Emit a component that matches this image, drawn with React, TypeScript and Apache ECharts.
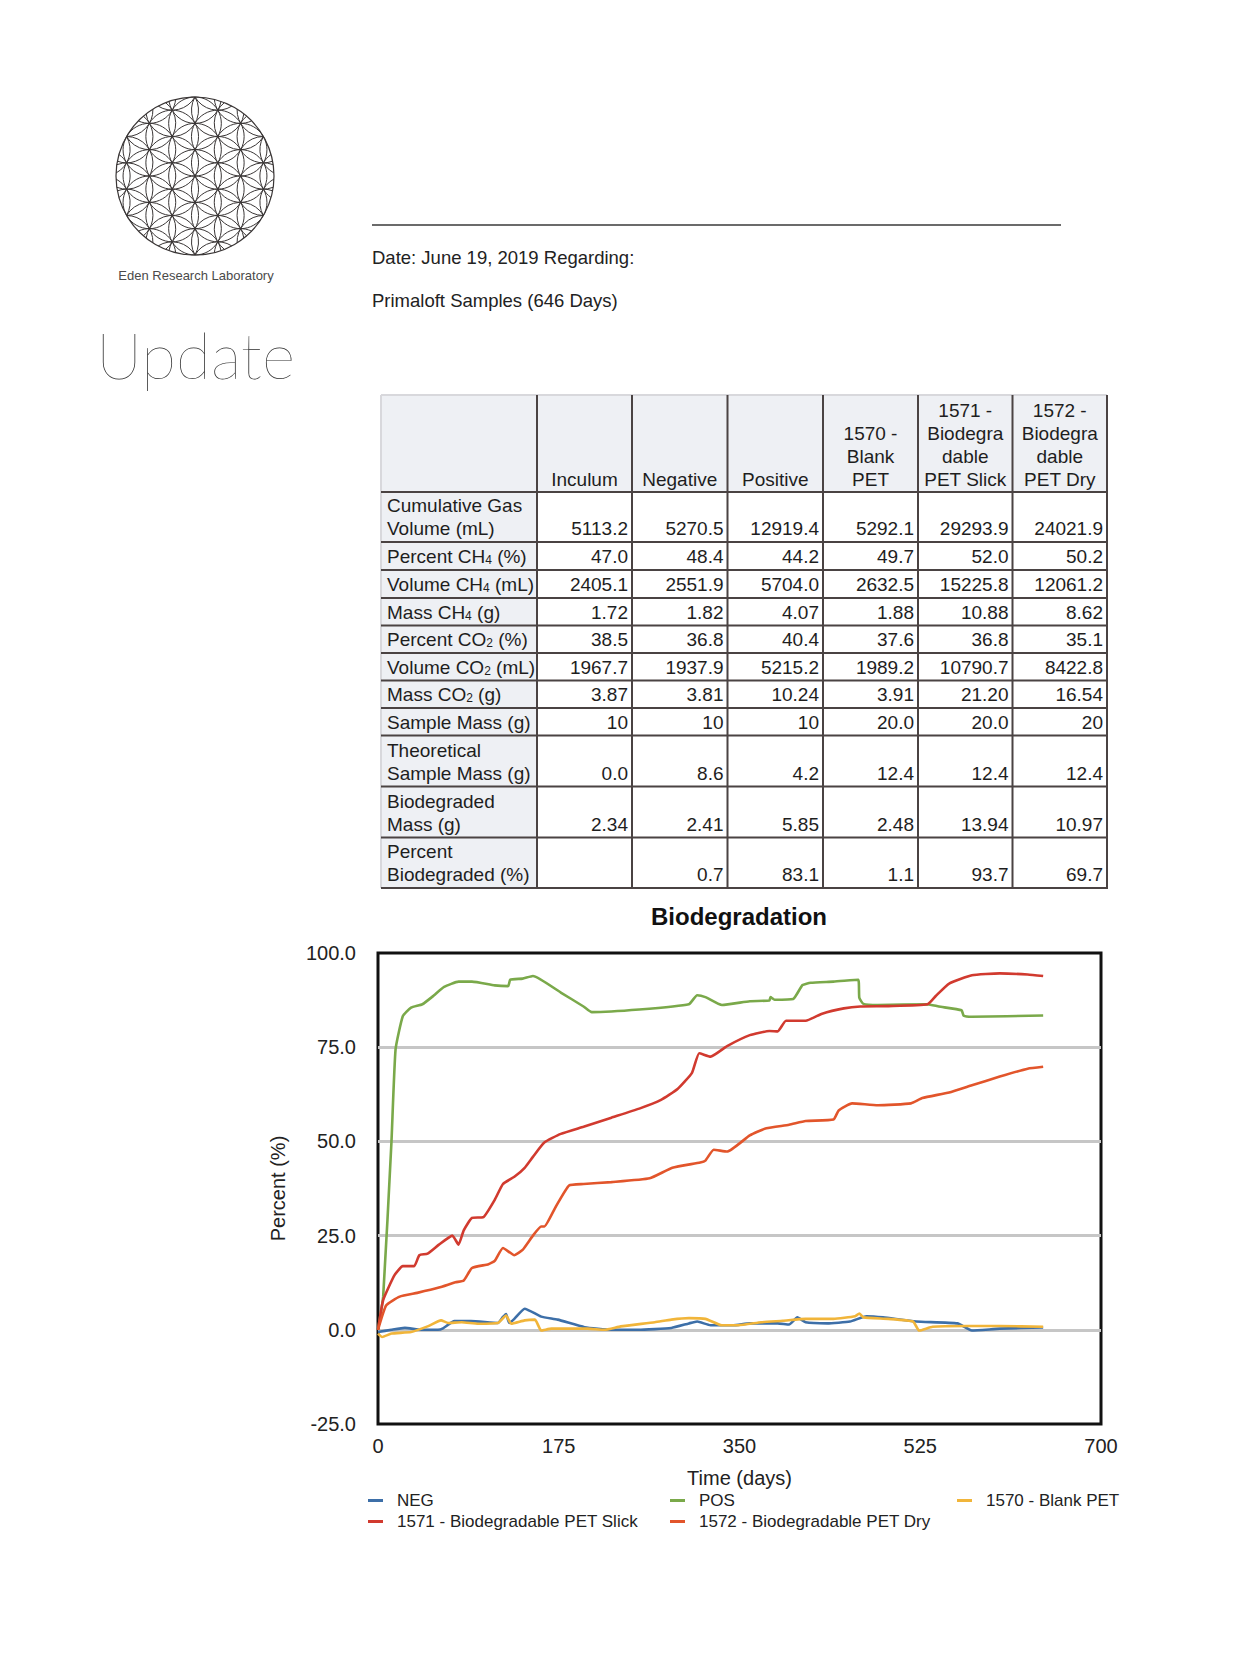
import React, { useEffect, useRef } from "react";
import * as echarts from "echarts";

const FONT = "Liberation Sans, Arial, Helvetica, sans-serif";

// ---------- Table data ----------
const headerLines: string[][] = [
  ["Inculum"],
  ["Negative"],
  ["Positive"],
  ["1570 -", "Blank", "PET"],
  ["1571 -", "Biodegra", "dable", "PET Slick"],
  ["1572 -", "Biodegra", "dable", "PET Dry"],
];
const rowLabels: string[][] = [
  ["Cumulative Gas", "Volume (mL)"],
  ["{a|Percent CH}{s|4}{a| (%)}"],
  ["{a|Volume CH}{s|4}{a| (mL)}"],
  ["{a|Mass CH}{s|4}{a| (g)}"],
  ["{a|Percent CO}{s|2}{a| (%)}"],
  ["{a|Volume CO}{s|2}{a| (mL)}"],
  ["{a|Mass CO}{s|2}{a| (g)}"],
  ["Sample Mass (g)"],
  ["Theoretical", "Sample Mass (g)"],
  ["Biodegraded", "Mass (g)"],
  ["Percent", "Biodegraded (%)"],
];
const cumGas = ["5113.2", "5270.5", "12919.4", "5292.1", "29293.9", "24021.9"];
const pctCH4 = ["47.0", "48.4", "44.2", "49.7", "52.0", "50.2"];
const volCH4 = ["2405.1", "2551.9", "5704.0", "2632.5", "15225.8", "12061.2"];
const massCH4 = ["1.72", "1.82", "4.07", "1.88", "10.88", "8.62"];
const pctCO2 = ["38.5", "36.8", "40.4", "37.6", "36.8", "35.1"];
const volCO2 = ["1967.7", "1937.9", "5215.2", "1989.2", "10790.7", "8422.8"];
const massCO2 = ["3.87", "3.81", "10.24", "3.91", "21.20", "16.54"];
const sampleMass = ["10", "10", "10", "20.0", "20.0", "20"];
const theoMass = ["0.0", "8.6", "4.2", "12.4", "12.4", "12.4"];
const biodegMass = ["2.34", "2.41", "5.85", "2.48", "13.94", "10.97"];
const pctBiodeg = ["", "0.7", "83.1", "1.1", "93.7", "69.7"];
const tableRows = [cumGas, pctCH4, volCH4, massCH4, pctCO2, volCO2, massCO2, sampleMass, theoMass, biodegMass, pctBiodeg];

// ---------- Chart data: [day, percent] ----------
const seriesNames = ["NEG", "POS", "1570 - Blank PET", "1571 - Biodegradable PET Slick", "1572 - Biodegradable PET Dry"];
const seriesColors = ["#3d6fa8", "#7aa94a", "#f1b53a", "#d13a2f", "#e2552b"];
const negData = [[0,-0.6],[13,0],[26,0.5],[42,0],[58,0],[63,0.4],[74,2.3],[90,2.3],[116,1.8],[121,3.4],[124,4.2],[127,1.8],[132,2.9],[142,5.6],[158,3.5],[174,2.7],[200,0.7],[226,0],[252,0],[284,0.5],[301,1.7],[309,2.2],[322,1.2],[344,1.2],[360,1.7],[387,1.7],[398,1.4],[406,3.3],[414,2.0],[435,1.7],[457,2.2],[473,3.6],[489,3.3],[521,2.2],[561,1.7],[575,-0.2],[602,0.3],[644,0.6]];
const posData = [[0,0],[5,8.8],[13,49.7],[17,74.4],[24,83.2],[32,85.5],[43,86.4],[54,88.7],[64,91],[78,92.4],[91,92.4],[113,91.4],[126,91.2],[128,92.9],[140,93.2],[150,93.9],[177,89.5],[199,85.8],[207,84.3],[253,85],[301,86.4],[309,88.8],[317,88.3],[333,86.2],[360,87.2],[379,87.4],[380,88.3],[384,87.6],[402,87.8],[411,91.5],[419,92.1],[441,92.4],[465,92.9],[466,88.1],[470,86.5],[484,86.2],[532,86.4],[543,85.8],[565,84.8],[567,83.4],[575,83.1],[644,83.4]];
const blankData = [[0,-1],[4,-1.9],[13,-1],[32,-0.6],[48,0.9],[61,2.5],[68,1.8],[81,2.0],[97,1.6],[116,1.8],[124,3.8],[129,1.6],[142,2.5],[152,2.7],[158,-0.2],[168,0.3],[203,0.3],[219,0],[235,0.9],[268,2.0],[284,2.7],[301,3.1],[317,2.9],[333,1.2],[349,1.2],[371,2.0],[392,2.4],[414,2.9],[441,2.9],[462,3.6],[466,4.3],[470,3.3],[494,2.9],[518,2.2],[524,-0.2],[537,0.8],[570,1.0],[602,1.0],[644,0.8]];
const slickData = [[0,0],[5,7.9],[16,14.5],[24,16.9],[35,16.9],[40,19.8],[48,20.2],[59,22.6],[72,25],[78,22.6],[83,26.4],[91,29.7],[102,29.9],[113,34.5],[121,38.7],[132,40.6],[142,43],[150,45.9],[161,49.7],[177,52],[199,53.9],[226,56.3],[253,58.7],[274,61],[290,63.9],[304,68.2],[311,73.4],[322,72.5],[338,75.3],[360,78.2],[379,79.3],[387,79.2],[395,82],[414,82],[430,83.9],[451,85.3],[467,85.8],[494,85.9],[532,86.4],[540,88.6],[553,91.9],[575,94.1],[602,94.6],[629,94.3],[644,93.9]];
const dryData = [[0,0],[8,6.5],[21,8.8],[38,9.8],[59,11.2],[75,12.6],[83,13.1],[91,16.4],[107,17.4],[113,18.3],[121,21.7],[132,19.8],[140,21.2],[150,25],[158,27.4],[161,27.4],[172,32.6],[185,38.3],[199,38.7],[226,39.2],[263,40.2],[285,43],[312,44.4],[317,44.9],[325,47.8],[338,47.3],[360,51.6],[376,53.5],[398,54.4],[414,55.4],[441,55.8],[446,58.2],[459,60.1],[484,59.6],[516,60.1],[527,61.5],[553,63],[575,64.9],[602,67.2],[629,69.3],[644,69.8]];
const allData = [negData, posData, blankData, slickData, dryData];
const yTicks = [-25, 0, 25, 50, 75, 100];
const xTicks = [0, 175, 350, 525, 700];

function buildLogo(): any[] {
  const cx = 195, cy = 176, R = 79, r = R / 3;
  const els: any[] = [];
  const stroke = { stroke: "#3a3636", lineWidth: 1, fill: "none" };
  els.push({ type: "circle", shape: { cx, cy, r: R }, style: { ...stroke, lineWidth: 1.2 } });
  for (let i = -7; i <= 7; i++) {
    for (let j = -7; j <= 7; j++) {
      const px = j * r * Math.sqrt(3) / 2;
      const py = i * r + j * r / 2;
      const d = Math.hypot(px, py);
      if (d >= R + r - 0.01) continue;
      const k = d < 1e-6 ? 2 : (R * R - d * d - r * r) / (2 * d * r);
      if (k >= 0.999) {
        els.push({ type: "circle", shape: { cx: cx + px, cy: cy + py, r }, style: stroke });
      } else if (k > -1) {
        const alpha = Math.atan2(py, px) + Math.PI;
        const w = Math.PI - Math.acos(k);
        els.push({
          type: "arc",
          shape: { cx: cx + px, cy: cy + py, r, startAngle: alpha - w, endAngle: alpha + w, clockwise: true },
          style: stroke,
        });
      }
    }
  }
  return els;
}

function buildTable(): any[] {
  const xs = [381, 537, 632, 727.5, 823, 918, 1012.5, 1107];
  const ys = [395, 492, 542, 570, 598, 625.5, 653, 680.5, 708, 735.5, 786.5, 837.5, 888];
  const els: any[] = [];
  const bg = "#eef0f4";
  const lineC = "#4a4343";
  const txtC = "#1e1e1e";
  els.push({ type: "rect", shape: { x: xs[0], y: ys[0], width: xs[7] - xs[0], height: ys[1] - ys[0] }, style: { fill: bg } });
  els.push({ type: "rect", shape: { x: xs[0], y: ys[1], width: xs[1] - xs[0], height: ys[12] - ys[1] }, style: { fill: bg } });
  els.push({ type: "line", shape: { x1: xs[0], y1: ys[0], x2: xs[7], y2: ys[0] }, style: { stroke: "#d8d8dc", lineWidth: 2 } });
  els.push({ type: "line", shape: { x1: xs[0], y1: ys[0], x2: xs[0], y2: ys[12] }, style: { stroke: "#d8d8dc", lineWidth: 2 } });
  for (let r = 1; r < ys.length; r++) {
    els.push({ type: "line", shape: { x1: xs[0], y1: ys[r], x2: xs[7] + 1, y2: ys[r] }, style: { stroke: lineC, lineWidth: 2 } });
  }
  for (let c = 1; c < xs.length; c++) {
    els.push({ type: "line", shape: { x1: xs[c], y1: ys[0], x2: xs[c], y2: ys[12] + 1 }, style: { stroke: lineC, lineWidth: 2 } });
  }
  const rich = {
    a: { fontSize: 19, fontFamily: FONT, fill: txtC, verticalAlign: "bottom" },
    s: { fontSize: 12, fontFamily: FONT, fill: txtC, verticalAlign: "bottom" },
  };
  headerLines.forEach((lines, c) => {
    const cxm = (xs[c + 1] + xs[c + 2]) / 2;
    lines.forEach((t, k) => {
      const fromBottom = lines.length - 1 - k;
      els.push({
        type: "text", x: cxm, y: ys[1] - 13 - 23 * fromBottom,
        style: { text: t, fontSize: 19, fontFamily: FONT, fill: txtC, textAlign: "center", textVerticalAlign: "middle" },
      });
    });
  });
  rowLabels.forEach((lines, r) => {
    const bottom = ys[r + 2];
    lines.forEach((t, k) => {
      const fromBottom = lines.length - 1 - k;
      const isRich = t.indexOf("{") === 0;
      els.push({
        type: "text", x: xs[0] + 6, y: bottom - 13.5 - 23 * fromBottom,
        style: isRich
          ? { text: t, rich, textAlign: "left", textVerticalAlign: "middle" }
          : { text: t, fontSize: 19, fontFamily: FONT, fill: txtC, textAlign: "left", textVerticalAlign: "middle" },
      });
    });
    tableRows[r].forEach((v, c) => {
      if (!v) return;
      els.push({
        type: "text", x: xs[c + 2] - 4, y: bottom - 13.5,
        style: { text: v, fontSize: 19, fontFamily: FONT, fill: txtC, textAlign: "right", textVerticalAlign: "middle" },
      });
    });
  });
  return els;
}

function buildHeader(): any[] {
  return [
    { type: "text", x: 196, y: 275, style: { text: "Eden Research Laboratory", fontSize: 13, fontFamily: FONT, fill: "#4a4a4a", textAlign: "center", textVerticalAlign: "middle" } },
    { type: "text", x: 96, y: 354, style: { text: "Update", fontSize: 64, fontFamily: "Lato, Liberation Sans, sans-serif", fontWeight: 200, fill: "#2a2a2a", textAlign: "left", textVerticalAlign: "middle" } },
    { type: "line", shape: { x1: 372, y1: 225, x2: 1061, y2: 225 }, style: { stroke: "#3a3a3a", lineWidth: 1.3 } },
    { type: "text", x: 372, y: 257, style: { text: "Date: June 19, 2019 Regarding:", fontSize: 18.5, fontFamily: FONT, fill: "#222", textAlign: "left", textVerticalAlign: "middle" } },
    { type: "text", x: 372, y: 300, style: { text: "Primaloft Samples (646 Days)", fontSize: 18.5, fontFamily: FONT, fill: "#222", textAlign: "left", textVerticalAlign: "middle" } },
  ];
}

export default function App() {
  const ref = useRef<HTMLDivElement>(null);
  useEffect(() => {
    if (!ref.current) return;
    const chart = echarts.init(ref.current, undefined, { renderer: "svg" });
    const legendPos = [
      [368, 1492], [670, 1492], [957, 1492], [368, 1513], [670, 1513],
    ];
    const option: any = {
      animation: false,
      backgroundColor: "#ffffff",
      title: {
        text: "Biodegradation",
        left: 734,
        top: 899,
        textAlign: "center",
        textStyle: { fontSize: 24, fontWeight: "bold", fontFamily: FONT, color: "#111" },
      },
      grid: {
        left: 378, top: 953, width: 723, height: 471,
        show: true, borderColor: "#111", borderWidth: 3, backgroundColor: "#fff",
      },
      xAxis: {
        type: "value", min: xTicks[0], max: xTicks[xTicks.length - 1], interval: 175,
        axisLine: { show: false }, axisTick: { show: false }, splitLine: { show: false },
        axisLabel: { fontSize: 20, fontFamily: FONT, color: "#222", margin: 12 },
        name: "Time (days)", nameLocation: "middle", nameGap: 44,
        nameTextStyle: { fontSize: 20, fontFamily: FONT, color: "#222" },
      },
      yAxis: {
        type: "value", min: yTicks[0], max: yTicks[yTicks.length - 1], interval: 25,
        axisLine: { show: false }, axisTick: { show: false },
        splitLine: { show: true, showMinLine: false, showMaxLine: false, lineStyle: { color: "#c6c6c6", width: 3 } },
        axisLabel: { fontSize: 20, fontFamily: FONT, color: "#222", margin: 22, formatter: (v: number) => v.toFixed(1) },
        name: "Percent (%)", nameLocation: "middle", nameGap: 90, nameRotate: 90,
        nameTextStyle: { fontSize: 20, fontFamily: FONT, color: "#222" },
      },
      legend: seriesNames.map((n, i) => ({
        data: [n],
        left: legendPos[i][0],
        top: legendPos[i][1],
        padding: 0,
        icon: "rect",
        itemWidth: 15,
        itemHeight: 3,
        textStyle: { fontSize: 17, fontFamily: FONT, color: "#222", padding: [0, 0, 0, 9] },
      })),
      series: seriesNames.map((n, i) => ({
        name: n,
        type: "line",
        data: allData[i],
        showSymbol: false,
        smooth: 0.15,
        color: seriesColors[i],
        lineStyle: { width: 2.6, color: seriesColors[i] },
        z: 3 + i,
      })),
      graphic: [
        ...buildLogo(),
        ...buildHeader(),
        ...buildTable(),
      ],
    };
    chart.setOption(option);
    return () => chart.dispose();
  }, []);
  return (
    <div
      ref={ref}
      style={{ position: "absolute", left: 0, top: 0, width: 1241, height: 1659, background: "#fff" }}
    />
  );
}
